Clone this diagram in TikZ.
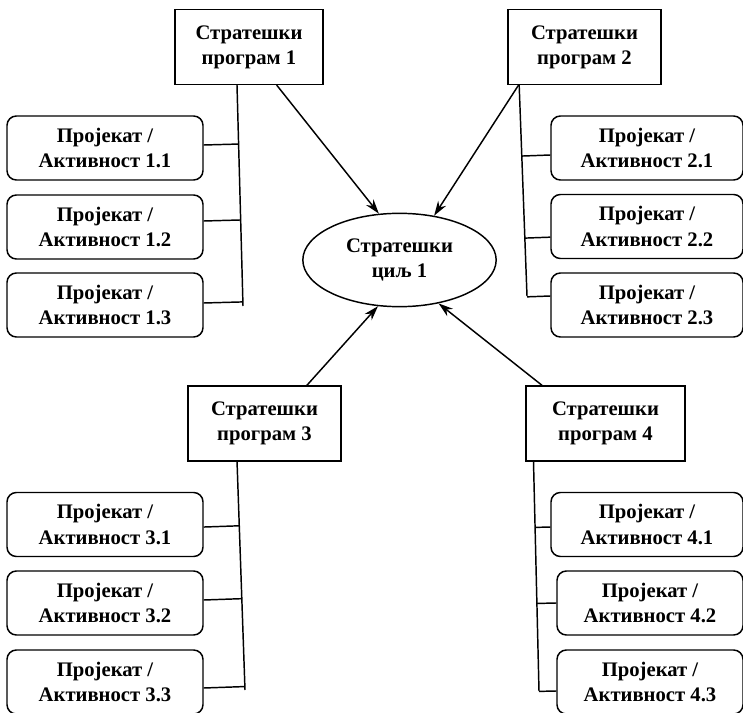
\documentclass[tikz,border=0pt]{standalone}
\usepackage{fontspec}
\setmainfont{Liberation Serif}
\usetikzlibrary{arrows.meta,shapes.geometric,calc}

\tikzset{
  boxfont/.style={font=\fontsize{15.5}{18.8}\selectfont\bfseries},
  progbox/.style={draw,line width=1.1pt,minimum height=56pt,inner sep=0pt,align=center,boxfont},
  projbox/.style={draw,line width=1.1pt,rounded corners=7pt,minimum height=48pt,inner sep=0pt,align=center,boxfont},
  goal/.style={draw,ellipse,line width=1.1pt,minimum width=145pt,minimum height=70pt,inner sep=0pt,align=center,boxfont},
  link/.style={line width=1.1pt},
  arr/.style={line width=1.1pt,-{Stealth[length=11pt,width=7pt]}}
}

\begin{document}
\begin{tikzpicture}[x=0.75pt,y=-0.75pt]
  \useasboundingbox (0,0) rectangle (743,713);

  % central goal
  \node[goal] (cilj) at (399.5,260) {Стратешки\\циљ 1};

  % strategic programs
  \node[progbox,minimum width=111pt]   (sp1) at (249,47)    {Стратешки\\програм 1};
  \node[progbox,minimum width=115pt]   (sp2) at (584.5,47)  {Стратешки\\програм 2};
  \node[progbox,minimum width=115pt]   (sp3) at (264.5,423.5) {Стратешки\\програм 3};
  \node[progbox,minimum width=119pt]   (sp4) at (605.5,423.5) {Стратешки\\програм 4};

  % projects / activities
  \foreach \i/\y in {1/148,2/227,3/305} {
    \node[projbox,minimum width=147pt] (p1\i) at (105,\y) {Пројекат /\\Активност 1.\i};
  }
  \foreach \i/\y in {1/148,2/226.5,3/305} {
    \node[projbox,minimum width=144pt] (p2\i) at (647,\y) {Пројекат /\\Активност 2.\i};
  }
  \foreach \i/\y in {1/524.5,2/603,3/682} {
    \node[projbox,minimum width=147pt] (p3\i) at (105,\y) {Пројекат /\\Активност 3.\i};
  }
  \node[projbox,minimum width=144pt]   (p41) at (647,524.5) {Пројекат /\\Активност 4.1};
  \node[projbox,minimum width=139.5pt] (p42) at (650,603)   {Пројекат /\\Активност 4.2};
  \node[projbox,minimum width=139.5pt] (p43) at (650,682)   {Пројекат /\\Активност 4.3};

  % arrows to the goal
  \draw[arr] (sp1.-54) -- (cilj.114);
  \draw[arr] (sp2.210) -- (cilj.52);
  \draw[arr] (sp3.42)  -- (cilj.245);
  \draw[arr] (sp4.149) -- (cilj.-48);

  % trunks
  \coordinate (b1) at ([xshift=-9pt]sp1.south);   \coordinate (e1) at (243,306);
  \coordinate (b2) at ([xshift=-49pt]sp2.south);  \coordinate (e2) at (527,296);
  \coordinate (b3) at ([xshift=-20.6pt]sp3.south); \coordinate (e3) at (245,690);
  \coordinate (b4) at ([xshift=-54pt]sp4.south);  \coordinate (e4) at (539,691);
  \foreach \k in {1,2,3,4} {
    \draw[link] (b\k) -- (e\k);
  }

  % branches
  \foreach \i/\dy in {1/2.25,2/4.5,3/1.5} {
    \draw[link] ([yshift=\dy pt]p1\i.east) -- ($(b1)!([yshift=\dy pt]p1\i.east)!(e1)$);
  }
  \foreach \i/\dy in {1/-5.25,2/-8,3/6.75} {
    \draw[link] ([yshift=\dy pt]p2\i.west) -- ($(b2)!([yshift=\dy pt]p2\i.west)!(e2)$);
  }
  \foreach \i/\dy in {1/-1.9,2/2.25,3/-4.5} {
    \draw[link] ([yshift=\dy pt]p3\i.east) -- ($(b3)!([yshift=\dy pt]p3\i.east)!(e3)$);
  }
  \foreach \i/\dy in {1/-1.9,2/0,3/-6.75} {
    \draw[link] ([yshift=\dy pt]p4\i.west) -- ($(b4)!([yshift=\dy pt]p4\i.west)!(e4)$);
  }
\end{tikzpicture}
\end{document}
